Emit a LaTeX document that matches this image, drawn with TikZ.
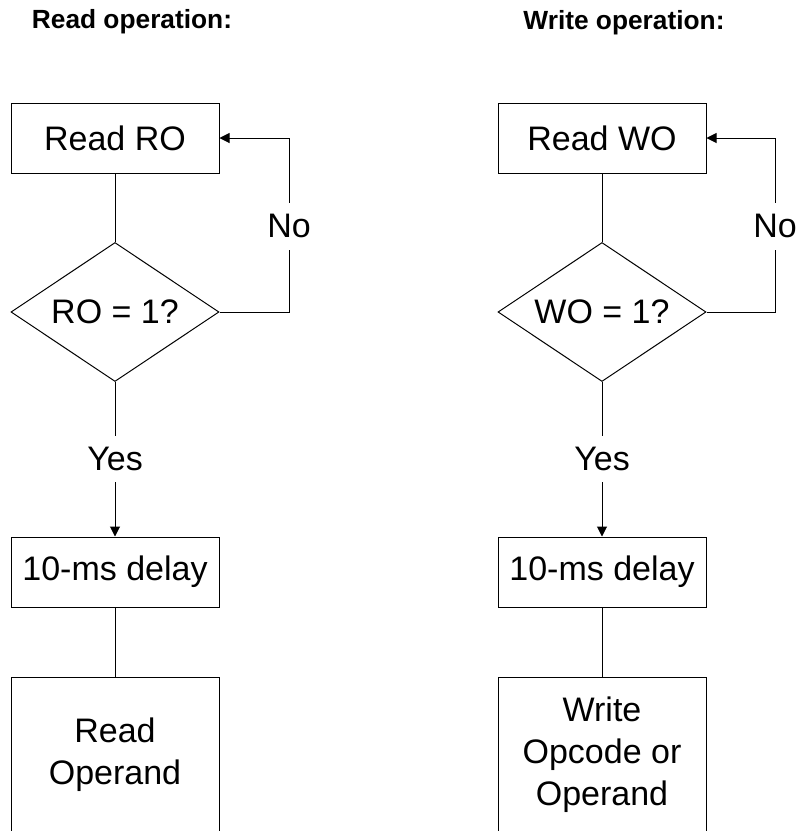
\documentclass[tikz,border=0pt]{standalone}
\usepackage{fontspec}
\setmainfont{Liberation Sans}
\usetikzlibrary{shapes.geometric,arrows.meta}
\begin{document}
\begin{tikzpicture}[x=1pt,y=-1pt,
  line width=1pt,
  every node/.style={inner sep=0pt},
  boxtext/.style={font=\fontsize{34}{42}\selectfont},
  titletext/.style={font=\fontsize{26.3}{30}\selectfont\bfseries},
  procbox/.style={draw,rectangle,boxtext,minimum width=208,minimum height=70},
  tallbox/.style={draw,rectangle,boxtext,align=center,minimum width=208,minimum height=156},
  decision/.style={draw,diamond,boxtext,minimum width=208,minimum height=139,aspect=1.5},
  lbl/.style={boxtext},
  arr/.style={-{Triangle[length=10pt,width=10pt]}}
]
\useasboundingbox (0,0) rectangle (798,831);
\clip (0,0) rectangle (798,831);
\fill[white] (0,0) rectangle (798,831);

% ---------- Read operation ----------
\node[titletext] (t1) at (132,22) {Read operation:};
\node[procbox] (b1) at (115,138) {Read RO};
\node[decision] (d1) at (115,312) {RO = 1?};
\node[lbl,minimum height=46] (no1) at (289,226) {No};
\node[lbl,minimum height=45] (yes1) at (115,459) {Yes};
\node[procbox] (c1) at (115,572) {10-ms delay};
\node[tallbox] (e1) at (115,755) {Read\\Operand};

\draw (b1.south) -- (d1.north);
\draw (d1.east) -| (no1.south);
\draw[arr] (no1.north) |- (b1.east);
\draw (d1.south) -- (yes1.north);
\draw[arr] (yes1.south) -- (c1.north);
\draw (c1.south) -- (e1.north);

% ---------- Write operation ----------
\node[titletext] (t2) at (624,23) {Write operation:};
\node[procbox] (b2) at (602,138) {Read WO};
\node[decision] (d2) at (602,312) {WO = 1?};
\node[lbl,minimum height=46] (no2) at (775,226) {No};
\node[lbl,minimum height=45] (yes2) at (602,459) {Yes};
\node[procbox] (c2) at (602,572) {10-ms delay};
\node[tallbox] (e2) at (602,755) {Write\\Opcode or\\Operand};

\draw (b2.south) -- (d2.north);
\draw (d2.east) -| (no2.south);
\draw[arr] (no2.north) |- (b2.east);
\draw (d2.south) -- (yes2.north);
\draw[arr] (yes2.south) -- (c2.north);
\draw (c2.south) -- (e2.north);
\end{tikzpicture}
\end{document}
